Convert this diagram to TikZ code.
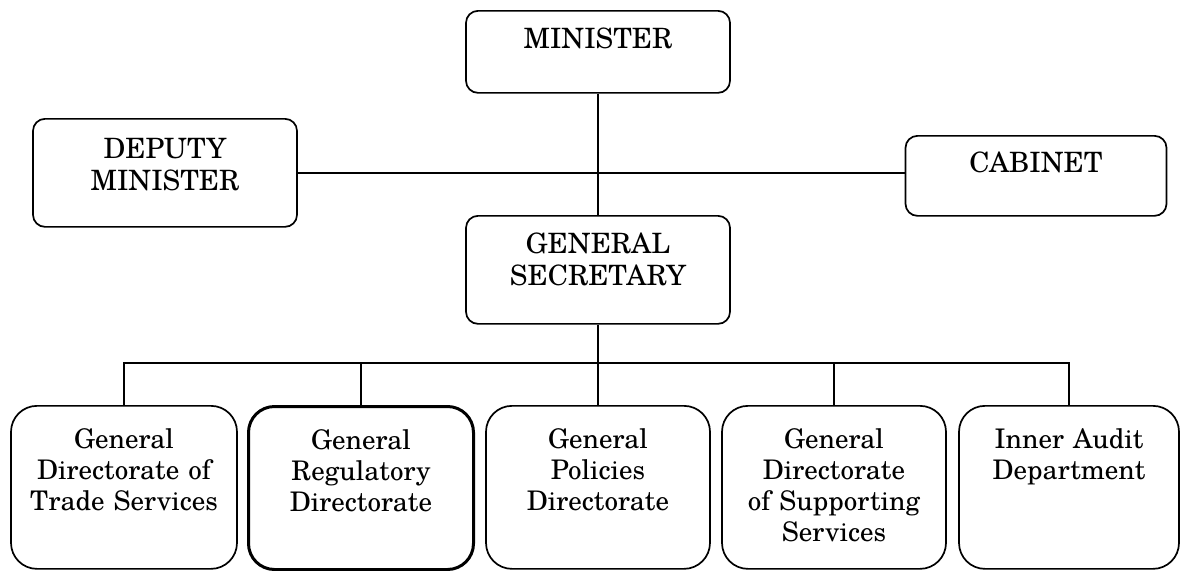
\documentclass[tikz,border=0pt]{standalone}
\usepackage{fontspec}
\setmainfont{texgyreschola-regular.otf}
\begin{document}
\begin{tikzpicture}[x=1pt,y=-1pt]
\tikzset{
  topbox/.style={draw, line width=1.7pt, rounded corners=12pt, inner sep=0pt, align=center, anchor=north, font=\fontsize{28}{32}\selectfont},
  botbox/.style={draw, line width=1.7pt, rounded corners=26pt, inner sep=0pt, align=center, anchor=north, text height=43pt, text depth=120pt, font=\fontsize{27}{31}\selectfont},
  conn/.style={line width=1.7pt}
}
\useasboundingbox (0,0) rectangle (1180,570);
\node[topbox, text width=264pt, text height=38pt, text depth=44pt] (min) at (598,10) {MINISTER};
\node[topbox, text width=264pt, text height=40pt, text depth=68pt] (dep) at (165,118) {DEPUTY\\MINISTER};
\node[topbox, text width=261pt, text height=37pt, text depth=43pt] (cab) at (1036,135) {CABINET};
\node[topbox, text width=264pt, text height=38pt, text depth=70pt] (gs) at (598,215) {GENERAL\\SECRETARY};
\node[botbox, text width=226pt] (b1) at (124,405) {General\\Directorate of\\Trade Services};
\node[botbox, text width=225pt, line width=3pt] (b2) at (361,405) {General\\Regulatory\\Directorate};
\node[botbox, text width=224pt] (b3) at (598,405) {General\\Policies\\Directorate};
\node[botbox, text width=224pt] (b4) at (834,405) {General\\Directorate\\of Supporting\\Services};
\node[botbox, text width=220pt] (b5) at (1069,405) {Inner Audit\\Department};
\coordinate (bar) at (598,363);
\draw[conn] (min.south) -- (min.south |- gs.north);
\draw[conn] (dep.east) -- (dep.east -| cab.west);
\draw[conn] (gs.south) -- (gs.south |- bar);
\draw[conn] (b1.north) -- (b1.north |- bar) -- (b5.north |- bar) -- (b5.north);
\draw[conn] (b2.north) -- (b2.north |- bar);
\draw[conn] (b3.north) -- (b3.north |- bar);
\draw[conn] (b4.north) -- (b4.north |- bar);
\end{tikzpicture}
\end{document}
